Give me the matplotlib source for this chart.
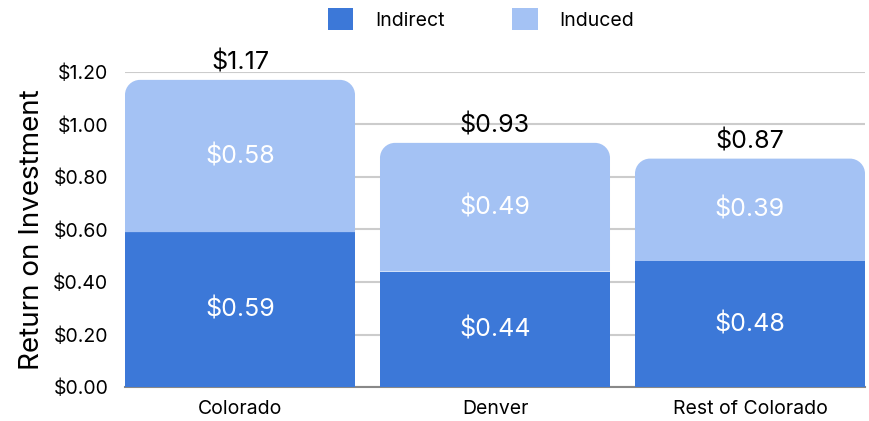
import matplotlib
matplotlib.use("Agg")
import matplotlib.pyplot as plt
from matplotlib.path import Path
from matplotlib.patches import PathPatch, Patch

categories = ["Colorado", "Denver", "Rest of Colorado"]
indirect = [0.59, 0.44, 0.48]
induced = [0.58, 0.49, 0.39]
totals = [1.17, 0.93, 0.87]
yticks = [0.0, 0.2, 0.4, 0.6, 0.8, 1.0, 1.2]
ytick_labels = ["$0.00", "$0.20", "$0.40", "$0.60", "$0.80", "$1.00", "$1.20"]

c_indirect = "#3c78d8"
c_induced = "#a4c2f4"

plt.rcParams['font.family'] = ['Inter', 'DejaVu Sans']

fig = plt.figure(figsize=(8.7, 4.21), dpi=100)
ax = fig.add_axes([125/870, 34/421, 740/870, 315/421])

x = list(range(len(categories)))
width = 0.902
b1 = ax.bar(x, indirect, width=width, color=c_indirect, zorder=3)
b2 = ax.bar(x, induced, width=width, bottom=indirect, color=c_induced, zorder=3)

ax.set_xlim(-0.451, 2.451)
ax.set_ylim(0, 1.2)

# rounded top corners for induced bars
fig.canvas.draw()
radius_px = 15
p0 = ax.transData.transform((0, 0))
p1 = ax.transData.transform((1, 1))
sx = (p1[0] - p0[0])
sy = (p1[1] - p0[1])
rx = radius_px / sx
ry = radius_px / sy
k = 0.5523
for rect in b2:
    x0, y0 = rect.get_x(), rect.get_y()
    w, h = rect.get_width(), rect.get_height()
    x1, y1 = x0 + w, y0 + h
    verts = [
        (x0, y0), (x0, y1 - ry),
        (x0, y1 - ry + k*ry), (x0 + rx - k*rx, y1), (x0 + rx, y1),
        (x1 - rx, y1),
        (x1 - rx + k*rx, y1), (x1, y1 - ry + k*ry), (x1, y1 - ry),
        (x1, y0), (x0, y0),
    ]
    codes = [Path.MOVETO, Path.LINETO,
             Path.CURVE4, Path.CURVE4, Path.CURVE4,
             Path.LINETO,
             Path.CURVE4, Path.CURVE4, Path.CURVE4,
             Path.LINETO, Path.CLOSEPOLY]
    rect.set_visible(False)
    ax.add_patch(PathPatch(Path(verts, codes), facecolor=c_induced,
                           edgecolor='none', zorder=3, clip_on=False))

ax.set_yticks(yticks)
ax.set_yticklabels(ytick_labels, fontsize=14)
ax.set_xticks(x)
ax.set_xticklabels(categories, fontsize=14)
ax.tick_params(axis='both', length=0)
ax.tick_params(axis='y', pad=12)
ax.tick_params(axis='x', pad=9)
ax.yaxis.grid(True, color="#cccccc", linewidth=1.5, zorder=0)
for s in ['top', 'right', 'left']:
    ax.spines[s].set_visible(False)
ax.spines['bottom'].set_color("#888888")
ax.spines['bottom'].set_linewidth(1.5)

ax.set_ylabel("Return on Investment", fontsize=20, labelpad=6)

for i in x:
    ax.text(i, indirect[i] / 2, f"${indirect[i]:.2f}", ha='center', va='center',
            color='white', fontsize=18, zorder=4)
    ax.text(i, indirect[i] + induced[i] / 2, f"${induced[i]:.2f}", ha='center',
            va='center', color='white', fontsize=18, zorder=4)
    ax.annotate(f"${totals[i]:.2f}", (i, totals[i]), xytext=(0, 4),
                textcoords='offset points', ha='center', va='bottom',
                fontsize=18, color='black', annotation_clip=False)

handles = [Patch(facecolor=c_indirect, label="Indirect"),
           Patch(facecolor=c_induced, label="Induced")]
fig.legend(handles=handles, loc='center', bbox_to_anchor=(481/870, 1 - 19/421),
           ncol=2, frameon=False, fontsize=14, handlelength=1.3, handleheight=1.3,
           columnspacing=3.5, handletextpad=1.1)

fig.savefig("out.png", dpi=100)
